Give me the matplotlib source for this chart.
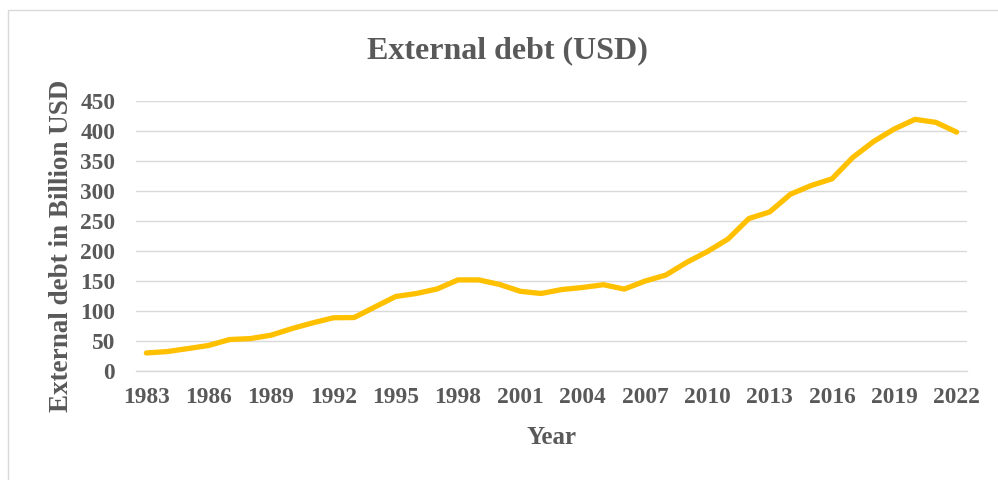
import matplotlib
matplotlib.use("Agg")
import matplotlib.pyplot as plt
from matplotlib.patches import Rectangle

years = list(range(1983, 2023))
debt = [30.5, 32.8, 37.8, 43.0, 52.8, 54.4, 60.0, 71.0, 80.5, 89.0,
        89.4, 107.0, 124.4, 129.4, 137.0, 152.0, 152.0, 144.4, 133.0, 129.4,
        136.0, 139.4, 144.0, 136.7, 150.0, 160.0, 181.0, 199.0, 220.0, 254.0,
        265.0, 294.4, 309.0, 320.0, 355.6, 382.0, 403.0, 419.0, 414.0, 397.8]
yticks = [0, 50, 100, 150, 200, 250, 300, 350, 400, 450]
xtick_years = list(range(1983, 2023, 3))

W, H = 998, 480
fig = plt.figure(figsize=(W / 100, H / 100), dpi=100)
fig.patch.set_facecolor("white")

# chart border
fig.patches.append(Rectangle((8 / W, -0.05), 1.2, (H - 10) / H + 0.05,
                             transform=fig.transFigure, fill=False,
                             edgecolor="#D9D9D9", linewidth=1.0))

ax = fig.add_axes([136 / W, 1 - 371.3 / H, (967 - 136) / W, (371.3 - 100.7) / H])
ax.plot(years, debt, color="#FFC000", linewidth=3.8, solid_capstyle="round",
        solid_joinstyle="round", zorder=3)

ax.set_xlim(1982.5, 2022.5)
ax.set_ylim(0, 450)
ax.set_yticks(yticks)
ax.set_xticks(xtick_years)
ax.grid(axis="y", color="#D9D9D9", linewidth=1.0)
ax.set_axisbelow(True)
for s in ["top", "right", "left"]:
    ax.spines[s].set_visible(False)
ax.spines["bottom"].set_color("#D9D9D9")
ax.spines["bottom"].set_linewidth(1.0)
ax.tick_params(axis="both", length=0, colors="#595959")
ax.tick_params(axis="y", pad=15)
ax.tick_params(axis="x", pad=11)

tfont = dict(family="Liberation Serif", weight="bold", color="#595959")
for lab in ax.get_xticklabels() + ax.get_yticklabels():
    lab.set_fontfamily("Liberation Serif")
    lab.set_fontweight("bold")
    lab.set_fontsize(16.8)

fig.text(507.5 / W, 1 - 51 / H, "External debt (USD)", ha="center", va="center",
         fontsize=23, **tfont)
fig.text(551.5 / W, 1 - 437 / H, "Year", ha="center", va="center",
         fontsize=18, **tfont)
fig.text(62 / W, 1 - 246 / H, "External debt in Billion USD", ha="center",
         va="center", rotation=90, fontsize=19.5, **tfont)

fig.savefig("out.png", dpi=100, facecolor="white")
